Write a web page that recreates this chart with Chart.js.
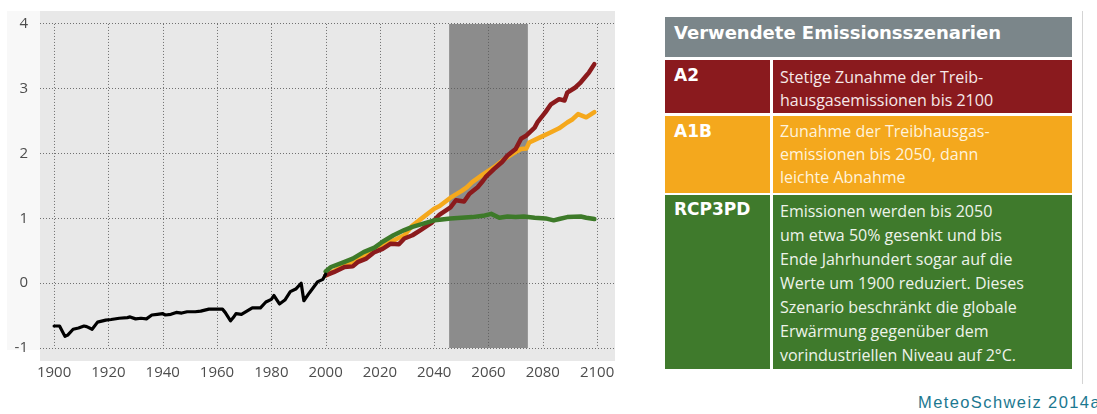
<!DOCTYPE html>
<html>
<head>
<meta charset="utf-8">
<script src="https://cdn.jsdelivr.net/npm/chart.js@4/dist/chart.umd.min.js"></script>
<style>
  html, body { margin: 0; padding: 0; background: #ffffff; }
  body { width: 1097px; height: 414px; position: relative; overflow: hidden; }
  #leftpanel { position: absolute; left: 7px; top: 11px; width: 34px; height: 339px; background: #f8f8f8; }
  #chartwrap { position: absolute; left: 0; top: 0; width: 640px; height: 414px; }
  .cell { position: absolute; box-sizing: border-box; color: #ffffff; }
  .hdr { font-family: "DejaVu Sans", sans-serif; font-weight: bold; font-size: 18px; line-height: 32px; padding-left: 9px; background: #7b868a; }
  .lab { font-family: "DejaVu Sans", sans-serif; font-weight: bold; font-size: 17px; line-height: 23px; padding-left: 9px; }
  .desc { font-family: "Open Sans", sans-serif; font-size: 16px; padding-left: 7px; white-space: nowrap; }
  #vline { position: absolute; left: 1082px; top: 11px; width: 1px; height: 373px; background: #d4d4d4; }
  #src { position: absolute; left: 918px; top: 393px; font-family: "Liberation Sans", Arial, sans-serif; font-size: 16.5px; letter-spacing: 1.4px; color: #1b7890; white-space: nowrap; }
</style>
</head>
<body>
<div id="leftpanel"></div>
<div id="chartwrap"><canvas id="c" width="640" height="414"></canvas></div>

<div class="cell hdr" style="left:665px;top:17px;width:407px;height:40px;">Verwendete Emissionsszenarien</div>

<div class="cell lab" style="left:665px;top:60px;width:105px;height:53px;background:#8a1a1e;padding-top:4px;">A2</div>
<div class="cell desc" style="left:773px;top:60px;width:299px;height:53px;background:#8a1a1e;line-height:23px;padding-top:6px;color:#f6e8e8;">Stetige Zunahme der Treib-<br>hausgasemissionen bis 2100</div>

<div class="cell lab" style="left:665px;top:116px;width:105px;height:77px;background:#f4a81d;padding-top:4px;">A1B</div>
<div class="cell desc" style="left:773px;top:116px;width:299px;height:77px;background:#f4a81d;line-height:23px;padding-top:4px;color:#fff3dc;">Zunahme der Treibhausgas-<br>emissionen bis 2050, dann<br>leichte Abnahme</div>

<div class="cell lab" style="left:665px;top:195px;width:105px;height:174px;background:#3f7a2c;padding-top:3px;">RCP3PD</div>
<div class="cell desc" style="left:773px;top:195px;width:299px;height:174px;background:#3f7a2c;line-height:24px;padding-top:4px;color:#eef3ea;">Emissionen werden bis 2050<br>um etwa 50% gesenkt und bis<br>Ende Jahrhundert sogar auf die<br>Werte um 1900 reduziert. Dieses<br>Szenario beschränkt die globale<br>Erwärmung gegenüber dem<br>vorindustriellen Niveau auf 2°C.</div>

<div id="vline"></div>
<div id="src">MeteoSchweiz 2014a</div>

<script>
// ---- data ----
const obsYears = [1900,1902,1904,1905,1907,1909,1911,1912,1914,1916,1919,1921,1924,1927,1928,1930,1932,1934,1936,1938,1940,1941,1943,1945,1947,1949,1952,1954,1957,1962,1963,1965,1966,1967,1969,1971,1973,1975,1976,1978,1980,1981,1983,1985,1987,1989,1991,1992,1994,1997,1999,2000];
const obsValues = [-0.66,-0.66,-0.82,-0.80,-0.71,-0.69,-0.66,-0.67,-0.71,-0.60,-0.57,-0.56,-0.54,-0.53,-0.52,-0.55,-0.54,-0.55,-0.49,-0.48,-0.47,-0.49,-0.48,-0.45,-0.46,-0.44,-0.44,-0.43,-0.40,-0.40,-0.45,-0.58,-0.53,-0.47,-0.48,-0.43,-0.38,-0.38,-0.38,-0.29,-0.25,-0.19,-0.32,-0.26,-0.13,-0.09,0.00,-0.27,-0.15,0.02,0.06,0.14];

const a2Years = [2000,2003,2007,2010,2012,2015,2018,2021,2024,2027,2029,2032,2035,2039,2042,2046,2048,2051,2053,2056,2058,2059,2062,2065,2067,2070,2072,2074,2077,2078,2081,2083,2086,2088,2089,2092,2094,2096,2097,2099];
const a2Values = [0.12,0.17,0.25,0.26,0.33,0.38,0.48,0.53,0.61,0.60,0.69,0.74,0.82,0.93,1.06,1.17,1.28,1.26,1.38,1.48,1.58,1.64,1.76,1.87,1.97,2.07,2.23,2.28,2.40,2.48,2.64,2.76,2.84,2.82,2.94,3.02,3.10,3.20,3.25,3.38];

const a1bYears = [2000,2005,2010,2015,2020,2025,2029,2032,2036,2040,2042,2046,2050,2052,2054,2058,2062,2066,2069,2072,2074,2075,2079,2083,2086,2089,2091,2093,2096,2099];
const a1bValues = [0.12,0.23,0.33,0.43,0.55,0.66,0.74,0.89,1.02,1.15,1.19,1.32,1.42,1.48,1.56,1.68,1.79,1.92,2.00,2.07,2.08,2.17,2.25,2.33,2.39,2.48,2.53,2.61,2.56,2.64];

const rcpYears = [2000,2002,2007,2010,2014,2018,2021,2025,2029,2032,2036,2040,2042,2046,2050,2054,2058,2061,2064,2067,2070,2073,2077,2081,2084,2086,2089,2094,2096,2099];
const rcpValues = [0.18,0.25,0.33,0.38,0.48,0.55,0.64,0.74,0.82,0.87,0.92,0.97,0.98,1.00,1.01,1.02,1.04,1.07,1.01,1.03,1.02,1.03,1.01,1.00,0.97,0.99,1.02,1.03,1.01,0.99];

const xTickYears = [1900,1920,1940,1960,1980,2000,2020,2040,2060,2080,2100];
const yTickValues = [-1,0,1,2,3,4];
const bandYears = [2045.5, 2074.5];   // shaded 30-year window

// ---- helpers ----
const pts = (xs, ys) => xs.map((x, i) => ({ x: x, y: ys[i] }));

const backgroundPlugin = {
  id: 'bg',
  beforeDraw(chart) {
    const { ctx, chartArea, scales } = chart;
    ctx.save();
    ctx.fillStyle = '#e8e8e8';
    ctx.fillRect(chartArea.left, chartArea.top, chartArea.right - chartArea.left, chartArea.bottom - chartArea.top);
    const x0 = scales.x.getPixelForValue(bandYears[0]);
    const x1 = scales.x.getPixelForValue(bandYears[1]);
    const yTop = scales.y.getPixelForValue(yTickValues[yTickValues.length - 1]);
    const yBot = scales.y.getPixelForValue(yTickValues[0]);
    ctx.fillStyle = '#8c8c8c';
    ctx.fillRect(x0, yTop, x1 - x0, yBot - yTop);
    ctx.restore();
  },
  beforeDatasetsDraw(chart) {
    const { ctx, scales } = chart;
    const yTop = scales.y.getPixelForValue(yTickValues[yTickValues.length - 1]);
    const yBot = scales.y.getPixelForValue(yTickValues[0]);
    ctx.save();
    ctx.strokeStyle = 'rgba(90,90,90,0.85)';
    ctx.lineWidth = 1;
    ctx.setLineDash([1, 2]);
    xTickYears.forEach(yr => {
      const px = Math.round(scales.x.getPixelForValue(yr)) + 0.5;
      ctx.beginPath();
      ctx.moveTo(px, yTop);
      ctx.lineTo(px, yBot);
      ctx.stroke();
    });
    ctx.restore();
  }
};

const lineStyle = (color, width) => ({
  borderColor: color, backgroundColor: color, borderWidth: width,
  pointRadius: 0, tension: 0, fill: false, borderJoinStyle: 'round', borderCapStyle: 'round'
});

const zeroPad = scale => { scale.paddingTop = 0; scale.paddingBottom = 0; scale.paddingLeft = 0; scale.paddingRight = 0; };

new Chart(document.getElementById('c'), {
  type: 'line',
  data: {
    datasets: [
      Object.assign({ label: 'A1B', data: pts(a1bYears, a1bValues), order: 4 }, lineStyle('#f5a81c', 4.5)),
      Object.assign({ label: 'A2', data: pts(a2Years, a2Values), order: 3 }, lineStyle('#8b1a1c', 4.5)),
      Object.assign({ label: 'RCP3PD', data: pts(rcpYears, rcpValues), order: 2 }, lineStyle('#3d7a29', 4.5)),
      Object.assign({ label: 'Beobachtung', data: pts(obsYears, obsValues), order: 1 }, lineStyle('#000000', 3.2))
    ]
  },
  options: {
    responsive: false,
    animation: false,
    layout: { padding: { left: 0, top: 11, right: 25, bottom: 0 } },
    plugins: { legend: { display: false }, tooltip: { enabled: false } },
    scales: {
      x: {
        type: 'linear',
        min: 1894.8, max: 2106.6,
        afterBuildTicks(scale) { scale.ticks = xTickYears.map(v => ({ value: v })); },
        afterFit(scale) { scale.height = 53; zeroPad(scale); },
        grid: { display: false, drawTicks: false },
        border: { display: false },
        ticks: {
          color: '#4d4d4d', padding: 3,
          font: { family: 'Open Sans', size: 15 },
          maxRotation: 0, autoSkip: false,
          callback: v => String(v)
        }
      },
      y: {
        type: 'linear',
        min: -1.2, max: 4.2,
        afterBuildTicks(scale) { scale.ticks = yTickValues.map(v => ({ value: v })); },
        afterFit(scale) { scale.width = 40; zeroPad(scale); },
        grid: { color: 'rgba(90,90,90,0.85)', lineWidth: 1, drawTicks: false },
        border: { display: false, dash: [1, 2] },
        ticks: {
          color: '#4d4d4d', padding: 12,
          font: { family: 'Open Sans', size: 15 },
          callback: v => String(v)
        }
      }
    }
  },
  plugins: [backgroundPlugin]
});
</script>
</body>
</html>
